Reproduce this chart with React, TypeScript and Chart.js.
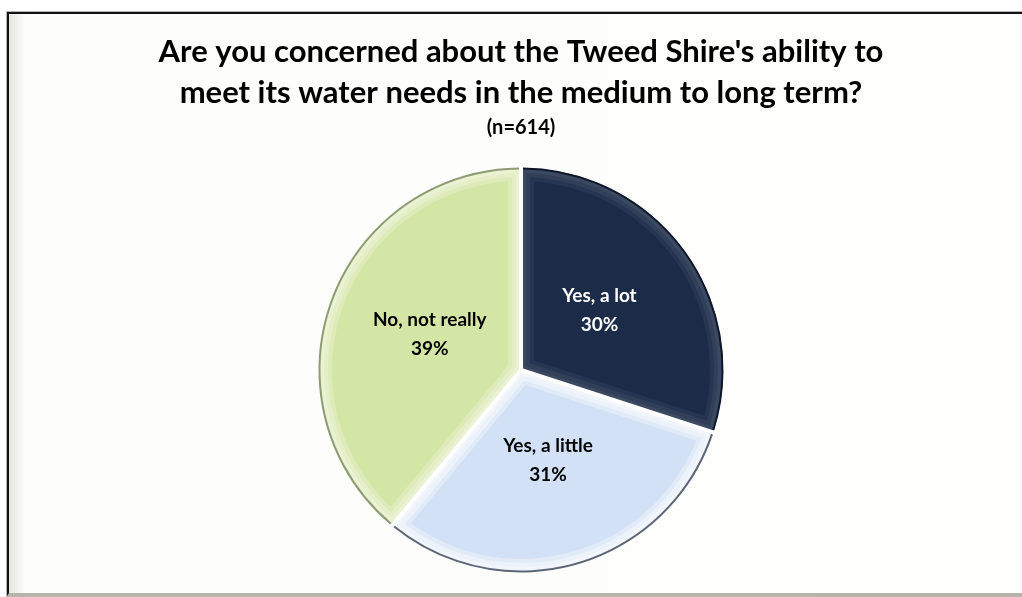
import React, { useEffect, useRef } from 'react';
import { Chart, registerables } from 'chart.js';

Chart.register(...registerables);

const TITLE_LINES = [
  "Are you concerned about the Tweed Shire's ability to",
  'meet its water needs in the medium to long term?',
];
const SUBTITLE = '(n=614)';
const CATEGORIES = ['Yes, a lot', 'Yes, a little', 'No, not really'];
const VALUES = [30, 31, 39];
const COLORS = ['#1b2b48', '#d2e1f5', '#d4e6a6'];
const LABEL_COLORS = ['#ffffff', '#000000', '#000000'];
const BEVEL = ['rgba(255,255,255,0.05)', 'rgba(255,255,255,0.35)', 'rgba(255,255,255,0.22)'];
const OUTLINES = ['#0f182a', '#5d6676', '#8d9c72'];

const FONT = "Lato, 'Open Sans', sans-serif";

const bevelPlugin = {
  id: 'bevel',
  afterDatasetsDraw(chart: any) {
    const meta = chart.getDatasetMeta(0);
    const ctx: CanvasRenderingContext2D = chart.ctx;
    meta.data.forEach((arc: any, i: number) => {
      const p = arc.getProps(['x', 'y', 'startAngle', 'endAngle', 'outerRadius'], true);
      ctx.save();
      ctx.beginPath();
      ctx.moveTo(p.x, p.y);
      ctx.arc(p.x, p.y, p.outerRadius, p.startAngle, p.endAngle);
      ctx.closePath();
      ctx.clip();
      ctx.lineJoin = 'round';
      [26, 18, 10].forEach((w) => {
        ctx.lineWidth = w;
        ctx.strokeStyle = BEVEL[i];
        ctx.stroke();
      });
      ctx.restore();
      ctx.save();
      ctx.beginPath();
      ctx.arc(p.x, p.y, p.outerRadius - 0.5, p.startAngle + 0.01, p.endAngle - 0.01);
      ctx.lineWidth = 2;
      ctx.strokeStyle = OUTLINES[i];
      ctx.stroke();
      ctx.restore();
    });
    meta.data.forEach((arc: any) => {
      const p = arc.getProps(['x', 'y', 'startAngle', 'outerRadius'], true);
      ctx.save();
      ctx.beginPath();
      ctx.moveTo(p.x, p.y);
      ctx.lineTo(p.x + Math.cos(p.startAngle) * (p.outerRadius + 1), p.y + Math.sin(p.startAngle) * (p.outerRadius + 1));
      ctx.lineWidth = 4;
      ctx.strokeStyle = '#ffffff';
      ctx.stroke();
      ctx.restore();
    });
  },
};

const labelPlugin = {
  id: 'sliceLabels',
  afterDraw(chart: any) {
    const meta = chart.getDatasetMeta(0);
    const ctx: CanvasRenderingContext2D = chart.ctx;
    const total = VALUES.reduce((a, b) => a + b, 0);
    meta.data.forEach((arc: any, i: number) => {
      const p = arc.getProps(['x', 'y', 'startAngle', 'endAngle', 'outerRadius'], true);
      const mid = (p.startAngle + p.endAngle) / 2;
      const r = p.outerRadius * 0.48;
      const cx = p.x + Math.cos(mid) * r;
      const cy = p.y + Math.sin(mid) * r - 3;
      ctx.save();
      ctx.fillStyle = LABEL_COLORS[i];
      ctx.font = `bold 19px ${FONT}`;
      ctx.textAlign = 'center';
      ctx.textBaseline = 'middle';
      ctx.fillText(CATEGORIES[i], cx, cy - 14);
      ctx.fillText(`${Math.round((VALUES[i] / total) * 100)}%`, cx, cy + 15);
      ctx.restore();
    });
  },
};

export default function App() {
  const ref = useRef<HTMLCanvasElement | null>(null);

  useEffect(() => {
    if (!ref.current) return;
    const chart = new Chart(ref.current, {
      type: 'pie',
      data: {
        labels: CATEGORIES,
        datasets: [
          {
            data: VALUES,
            backgroundColor: COLORS,
            borderColor: '#ffffff',
            borderWidth: 0,
            radius: 202,
          } as any,
        ],
      },
      options: {
        animation: false,
        responsive: false,
        layout: { padding: { left: 20, right: 0, top: 0, bottom: 24 } },
        plugins: {
          legend: { display: false },
          tooltip: { enabled: false },
          title: {
            display: true,
            text: TITLE_LINES,
            color: '#000000',
            font: { family: FONT, size: 31, weight: 'bold', lineHeight: 1.32 },
            padding: { top: 31.5, bottom: 0 },
          },
          subtitle: {
            display: true,
            text: SUBTITLE,
            color: '#000000',
            font: { family: FONT, size: 20, weight: 'bold', lineHeight: 1.2 },
            padding: { top: 2.5, bottom: 27 },
          },
        },
      } as any,
      plugins: [bevelPlugin, labelPlugin],
    });
    return () => chart.destroy();
  }, []);

  return (
    <div style={{ position: 'fixed', left: 0, top: 0, width: 1022, height: 597, background: '#ffffff', overflow: 'hidden' }}>
      <div
        style={{
          position: 'absolute',
          left: 7,
          top: 12,
          width: 1040,
          height: 579,
          borderLeft: '2px solid #111111',
          borderTop: '2px solid #111111',
          borderBottom: '3px solid #b4b4a8',
          boxShadow: '0 0 0 1px #b8b8b8',
          background: 'linear-gradient(to right, #e6e6de 0px, #fdfdfb 16px, #fefefd 100%)',
        }}
      />
      <canvas ref={ref} width={1022} height={597} style={{ position: 'absolute', left: 0, top: 0 }} />
    </div>
  );
}
